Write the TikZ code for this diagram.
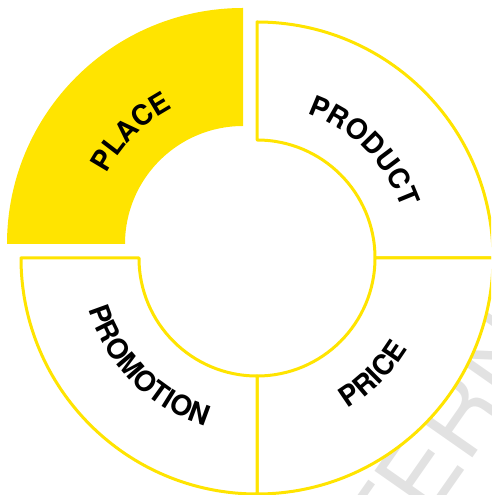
\documentclass[tikz,border=0pt]{standalone}
\usepackage{fontspec}
\setmainfont{TeX Gyre Heros}
\newfontfamily\labelfont{TeX Gyre Heros}
\usetikzlibrary{calc, decorations.text, positioning}
\definecolor{ringyellow}{RGB}{255,228,0}
\definecolor{wmgray}{RGB}{226,226,226}

\begin{document}
\begin{tikzpicture}[x=1pt, y=1pt,
    seg/.style={draw=ringyellow, line width=3pt, fill=white, line join=round},
    curved/.style={decorate, decoration={text along path, text align=center,
        text={|\labelfont\bfseries\fontsize{28}{28}\selectfont|#1}}},
    watermark/.style={text=wmgray, font=\labelfont\fontsize{100}{100}\selectfont, rotate=55},
]
\useasboundingbox (0,0) rectangle (491,495);
\clip (0,0) rectangle (491,495);
\def\Rout{236}
\def\Rin{118}
\coordinate (c) at (257,237);
\coordinate (p) at (243,251);

\node[watermark] (wm) at (449,66) {INTERNAL};

% three open quarters
\draw[seg] ($(c)+(90:\Rout)$) arc[start angle=90, end angle=0, radius=\Rout]
    -- ($(c)+(0:\Rin)$) arc[start angle=0, end angle=90, radius=\Rin] -- cycle;
\draw[seg] ($(c)+(0:\Rout)$) arc[start angle=0, end angle=-90, radius=\Rout]
    -- ($(c)+(-90:\Rin)$) arc[start angle=-90, end angle=0, radius=\Rin] -- cycle;
\draw[seg] ($(c)+(-90:\Rout)$) arc[start angle=-90, end angle=-180, radius=\Rout]
    -- ($(c)+(180:\Rin)$) arc[start angle=180, end angle=270, radius=\Rin] -- cycle;
% place, pulled out
\fill[ringyellow] ($(p)+(90:\Rout)$) arc[start angle=90, end angle=180, radius=\Rout]
    -- ($(p)+(180:\Rin)$) arc[start angle=180, end angle=90, radius=\Rin] -- cycle;

\path[curved=PLACE] ($(p)+(180:153)$) arc[start angle=180, end angle=90, radius=153];
\path[curved=PRODUCT] ($(c)+(90:153)$) arc[start angle=90, end angle=0, radius=153];
\path[curved=PRICE] ($(c)+(-90:176)$) arc[start angle=-90, end angle=0, radius=176];
\path[curved=PROMOTION] ($(c)+(180:176)$) arc[start angle=180, end angle=270, radius=176];
\end{tikzpicture}
\end{document}
